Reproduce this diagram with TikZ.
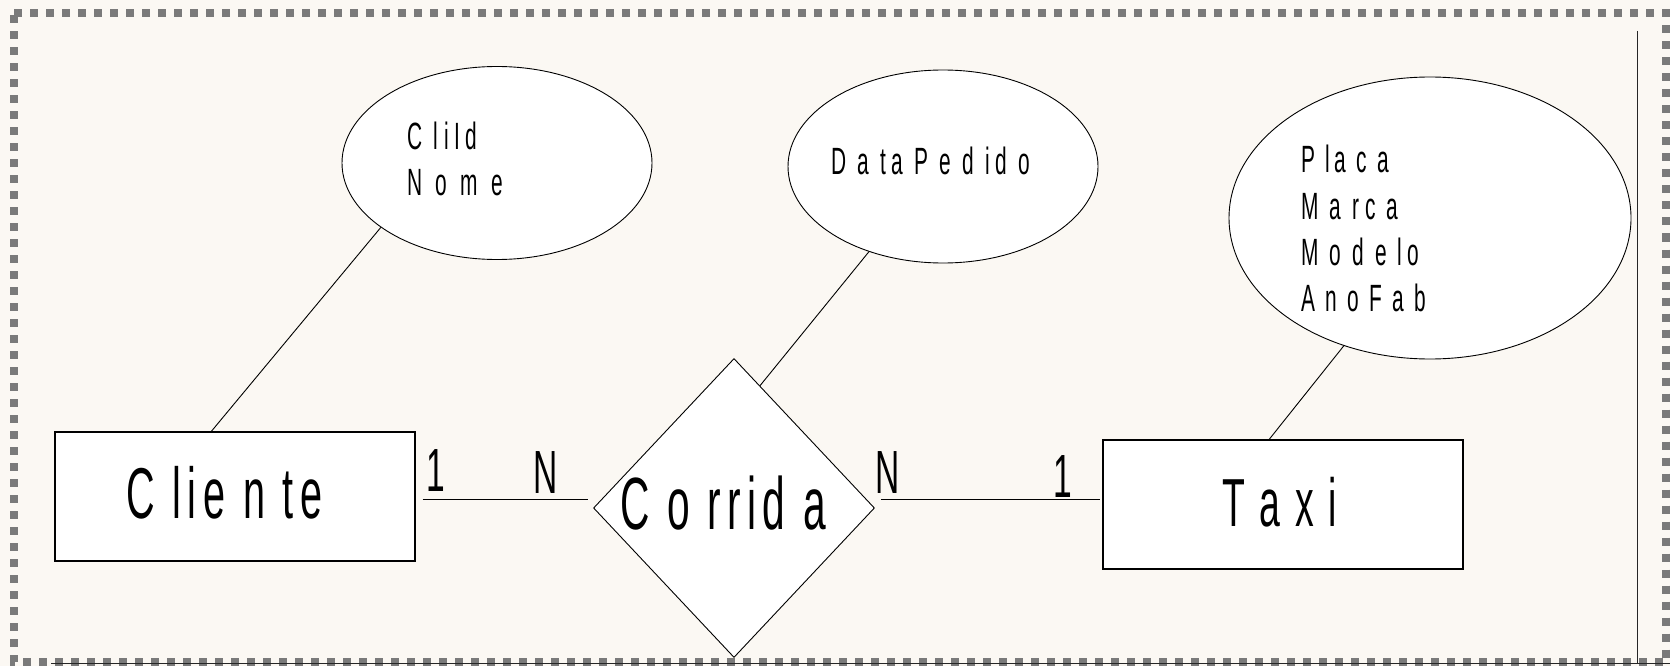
\documentclass[tikz,border=0pt]{standalone}
\usepackage{fontspec}
\newfontfamily\smallfont{Liberation Sans}[FakeStretch=0.55]
\newfontfamily\bigfont{Liberation Sans}[FakeStretch=0.55]
\usetikzlibrary{shapes.geometric,calc}
\definecolor{bgcream}{RGB}{251,248,243}
\definecolor{dotgray}{RGB}{122,122,122}
\begin{document}
\begin{tikzpicture}[x=1pt,y=-1pt,
  entity/.style={draw, fill=white, line width=1.2pt, rectangle, minimum width=360pt, minimum height=129pt, inner sep=0pt},
  attr/.style={draw, fill=white, line width=0.9pt, ellipse, inner sep=0pt},
  rel/.style={draw, fill=white, line width=0.9pt, diamond, inner sep=0pt, minimum width=281pt, minimum height=299pt},
  bigtext/.style={inner sep=0pt, anchor=base west},
  smalltext/.style={inner sep=0pt, anchor=base west, font=\smallfont\fontsize{38}{46}\selectfont\addfontfeature{LetterSpace=#1}},
  card/.style={inner sep=0pt, anchor=base, font=\bigfont\fontsize{61}{70}\selectfont},
  link/.style={line width=0.9pt},
  frame/.style={draw=dotgray, line width=8pt, dash pattern=on 8pt off 8pt}]
\useasboundingbox (0,0) rectangle (1670,666);
\fill[bgcream] (0,0) rectangle (1670,666);
\draw[frame] (14,13.5) -- (1666,13.5) -- (1666,662) -- (14,662) -- cycle;
\draw[line width=0.9pt, black!85] (51,663) -- (1670,663);
\draw[line width=0.9pt, black!85] (1637,31) -- (1637,663);

% entities
\node[entity] (cliente) at (235,496.5) {};
\node[entity] (taxi) at (1283,504.5) {};
\node[rel] (corrida) at (734,508) {};
\node[attr, minimum width=310pt, minimum height=193pt] (e1) at (497,163) {};
\node[attr, minimum width=310pt, minimum height=193pt] (e2) at (943,166.5) {};
\node[attr, minimum width=402pt, minimum height=282pt] (e3) at (1430,218) {};

% texts
\node[bigtext, font=\bigfont\fontsize{72}{80}\selectfont\addfontfeature{LetterSpace=9.3}] (tcliente) at (126,518) {C lie n te};
\node[bigtext, font=\bigfont\fontsize{74}{82}\selectfont\addfontfeature{LetterSpace=8.6}] (tcorrida) at (620,529) {C o rrid a};
\node[bigtext, font=\bigfont\fontsize{68}{76}\selectfont\addfontfeature{LetterSpace=6.5}] (ttaxi) at (1222,526) {T a x i};

\node[smalltext=15] (a1) at (407,149.5) {C liId};
\node[smalltext=20] (a2) at (407,195) {N o m e};
\node[smalltext=14.3] (a3) at (831,174) {D a ta P e d id o};
\node[smalltext=12] (a4) at (1301,172.5) {P la c a};
\node[smalltext=14.3] (a5) at (1301,219) {M a rc a};
\node[smalltext=14] (a6) at (1301,265) {M o d e lo};
\node[smalltext=12.2] (a7) at (1301,311) {A n o F a b};

% cardinalities
\node[card] (c1) at (436,491) {1};
\node[card] (c2) at (545.5,493) {N};
\node[card] (c3) at (887.5,493) {N};
\node[card] (c4) at (1063,497) {1};

% connectors
\coordinate (hl) at ($(cliente.east)+(0,2.5)$);
\draw[link] (e1.209) -- (cliente.110);
\draw[link] (e2.229) -- (corrida.78);
\draw[link] (e3.236) -- (taxi.102);
\draw[link, shorten <=7pt, shorten >=5pt] (hl) -- (hl -| corrida.west);
\draw[link, shorten <=6pt, shorten >=2pt] (hl -| corrida.east) -- (hl -| taxi.west);
\end{tikzpicture}
\end{document}
